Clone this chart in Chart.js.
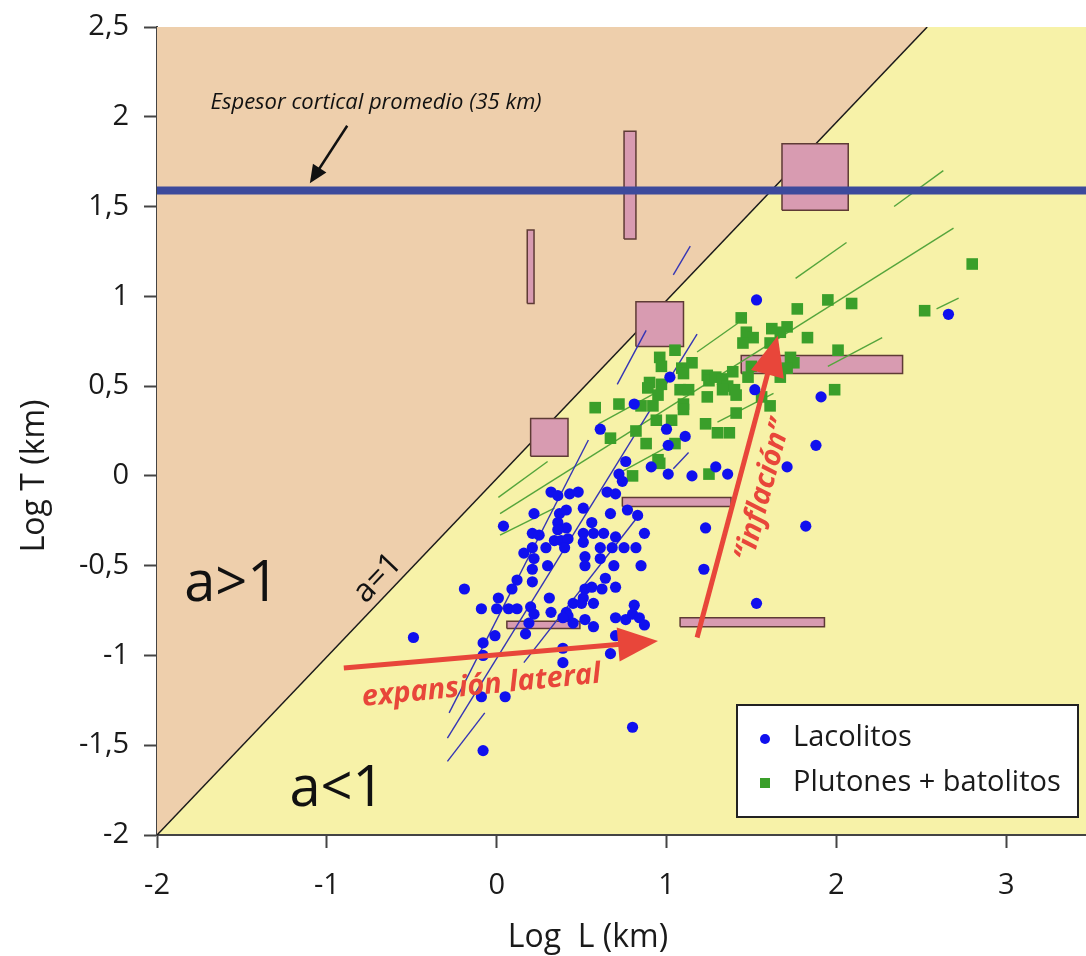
<!DOCTYPE html>
<html><head><meta charset="utf-8">
<script src="https://cdn.jsdelivr.net/npm/chart.js@4.4.0/dist/chart.umd.min.js"></script>
<style>html,body{margin:0;padding:0;background:#fff;}canvas{display:block;}</style>
</head><body>
<canvas id="c" width="1086" height="956"></canvas>
<script>
// ---- axes ----
const xTickValues = [-2, -1, 0, 1, 2, 3];
const xTickLabels = ['-2', '-1', '0', '1', '2', '3'];
const yTickValues = [-2, -1.5, -1, -0.5, 0, 0.5, 1, 1.5, 2, 2.5];
const yTickLabels = ['-2', '-1,5', '-1', '-0,5', '0', '0,5', '1', '1,5', '2', '2,5'];
const xRange = [-2, 3.47];
const yRange = [-2, 2.5];
const axisTitles = ['Log  L (km)', 'Log T (km)'];
const seriesNames = ['Lacolitos', 'Plutones + batolitos'];

// ---- series: [log L, log T] ----
const lacolitos = [
[1.02,0.55],[1.52,0.48],[1.71,0.05],[0.81,0.40],[0.61,0.26],[1.00,0.26],[1.11,0.22],[1.01,0.17],
[0.76,0.08],[0.91,0.05],[1.01,0.01],[1.15,0.00],[1.29,0.05],[1.36,0.01],[0.72,0.01],[0.74,-0.03],
[0.32,-0.09],[0.36,-0.11],[0.43,-0.10],[0.48,-0.09],[0.65,-0.09],[0.70,-0.10],[1.23,-0.29],[1.22,-0.52],
[1.53,-0.71],[0.04,-0.28],[0.22,-0.21],[0.37,-0.21],[0.41,-0.19],[0.51,-0.18],[0.67,-0.21],[0.77,-0.19],
[0.83,-0.22],[0.36,-0.26],[0.41,-0.29],[0.36,-0.30],[0.56,-0.26],[0.21,-0.32],[0.25,-0.33],[0.51,-0.32],
[0.57,-0.32],[0.63,-0.32],[0.70,-0.34],[0.87,-0.32],[0.16,-0.43],[0.21,-0.40],[0.29,-0.40],[0.34,-0.36],
[0.38,-0.36],[0.42,-0.35],[0.40,-0.40],[0.51,-0.37],[0.61,-0.40],[0.68,-0.40],[0.75,-0.40],[0.82,-0.40],
[0.22,-0.46],[0.30,-0.50],[0.52,-0.45],[0.52,-0.50],[0.61,-0.46],[0.69,-0.50],[0.85,-0.50],[0.21,-0.52],
[0.12,-0.58],[0.21,-0.59],[0.64,-0.57],[0.09,-0.63],[-0.19,-0.63],[0.52,-0.63],[0.56,-0.62],[0.62,-0.63],
[0.70,-0.62],[0.01,-0.68],[0.31,-0.68],[0.51,-0.68],[0.45,-0.71],[0.50,-0.71],[0.57,-0.71],[0.81,-0.72],
[-0.09,-0.74],[0.00,-0.74],[0.07,-0.74],[0.12,-0.74],[0.20,-0.73],[0.22,-0.77],[0.32,-0.76],[0.41,-0.76],
[0.42,-0.78],[0.39,-0.79],[0.45,-0.82],[0.52,-0.80],[0.57,-0.84],[0.70,-0.79],[0.76,-0.80],[0.80,-0.77],
[0.84,-0.79],[0.87,-0.83],[0.19,-0.82],[0.17,-0.88],[-0.01,-0.89],[-0.08,-0.93],[-0.49,-0.90],[-0.08,-1.00],
[0.39,-0.96],[0.39,-1.04],[0.67,-0.99],[0.70,-0.89],[-0.09,-1.23],[0.05,-1.23],[-0.08,-1.53],[0.80,-1.40],
[1.88,0.17],[1.82,-0.28],[1.91,0.44],[2.66,0.90],[1.53,0.98]
];
const plutones = [
[0.58,0.38],[0.72,0.40],[0.67,0.21],[0.82,0.25],[0.88,0.18],[0.95,0.09],[0.96,0.07],[0.80,0.00],
[1.25,0.01],[1.05,0.18],[1.03,0.31],[0.94,0.31],[0.92,0.39],[0.85,0.39],[0.90,0.52],[0.97,0.51],
[0.89,0.49],[0.95,0.45],[1.10,0.40],[1.10,0.37],[1.08,0.48],[1.13,0.48],[0.96,0.66],[0.97,0.61],
[1.05,0.70],[1.09,0.60],[1.10,0.57],[1.15,0.63],[1.24,0.56],[1.25,0.53],[1.29,0.55],[1.33,0.54],
[1.36,0.50],[1.33,0.48],[1.40,0.48],[1.41,0.45],[1.39,0.58],[1.24,0.44],[1.23,0.29],[1.30,0.24],
[1.37,0.24],[1.41,0.35],[1.48,0.55],[1.50,0.61],[1.56,0.44],[1.61,0.39],[1.44,0.88],[1.47,0.80],
[1.51,0.77],[1.45,0.74],[1.62,0.82],[1.67,0.80],[1.71,0.83],[1.61,0.74],[1.77,0.93],[1.83,0.77],
[1.95,0.98],[2.09,0.96],[2.01,0.70],[1.73,0.66],[1.75,0.63],[1.71,0.60],[1.67,0.55],[1.99,0.48],
[2.80,1.18],[2.52,0.92]
];
// range boxes: [L min, L max, T min, T max]
const rangeBoxes = [
[0.75,0.82,1.32,1.92],[0.18,0.22,0.96,1.37],[0.82,1.10,0.72,0.97],[0.20,0.42,0.11,0.32],
[1.68,2.07,1.48,1.85],[1.44,2.39,0.57,0.67],[0.74,1.38,-0.17,-0.12],[0.06,0.49,-0.85,-0.81],
[1.08,1.93,-0.84,-0.79]
];
// trend segments: [L1, T1, L2, T2]
const lacolitoTrends = [
[1.04,1.12,1.14,1.28],[0.71,0.51,0.88,0.81],[-0.29,-1.46,1.18,0.79],[-0.28,-1.32,0.54,0.20],
[-0.29,-1.59,-0.07,-1.32],[0.16,-1.04,0.82,-0.24],[1.04,0.04,1.13,0.13]
];
const plutonTrends = [
[2.34,1.50,2.63,1.70],[1.76,1.10,2.06,1.30],[0.02,-0.21,2.69,1.38],[1.95,0.61,2.27,0.77],
[2.59,0.93,2.72,0.99],[1.18,0.69,1.42,0.85],[0.01,-0.12,0.30,0.08],[0.02,-0.33,0.34,-0.18],
[0.60,0.29,0.93,0.46],[0.71,0.01,1.04,0.18],[1.30,0.30,1.63,0.46]
];
const aspectLine = [[-2,-2],[2.535,2.5]];
const crustLogT = 1.59;

// ---- annotations ----
const regionLabels = [['a>1', -1.56, -0.61], ['a<1', -0.94, -1.75]];
const slopeLabel = ['a=1', -0.70, -0.57];
const crustLabel = ['Espesor cortical promedio (35 km)', -0.71, 2.08];
const crustArrow = [-0.88, 1.95, -1.10, 1.63];
const lateralArrow = [-0.90, -1.07, 0.95, -0.92];
const lateralLabel = ['expansión lateral', -0.09, -1.17];
const inflationArrow = [1.18, -0.90, 1.655, 0.78];
const inflationLabel = ['“inflación”', 1.57, -0.08];

// ---- styles ----
const TAN = '#eecfac', YELLOW = '#f7f2a8', PINK = '#d89bb1', PINK_EDGE = '#5e3b35';
const BLUE = '#1010ee', GREEN = '#3a9f2a', RED = '#e8463a', TXT = '#1a1a1a';
const FONT = '"Open Sans", "Noto Sans", sans-serif';

const pts = arr => arr.map(p => ({x: p[0], y: p[1]}));
const datasets = [];

datasets.push({label: seriesNames[0], data: pts(lacolitos), showLine: false, pointRadius: 5.6,
  pointStyle: 'circle', backgroundColor: BLUE, borderColor: BLUE, pointBorderWidth: 0, order: 2});
datasets.push({label: seriesNames[1], data: pts(plutones), showLine: false, pointRadius: 8.2,
  pointStyle: 'rect', backgroundColor: GREEN, borderColor: GREEN, pointBorderWidth: 0, order: 3});
datasets.push({label: 'crust', data: [{x: xRange[0], y: crustLogT}, {x: xRange[1], y: crustLogT}],
  borderColor: '#3c4a9c', borderWidth: 8, pointRadius: 0, fill: false, order: 1});
lacolitoTrends.forEach(s => datasets.push({label: 'tl', data: [{x: s[0], y: s[1]}, {x: s[2], y: s[3]}],
  borderColor: '#3535b5', borderWidth: 1.4, pointRadius: 0, fill: false, order: 4}));
plutonTrends.forEach(s => datasets.push({label: 'tp', data: [{x: s[0], y: s[1]}, {x: s[2], y: s[3]}],
  borderColor: '#55a53c', borderWidth: 1.4, pointRadius: 0, fill: false, order: 5}));
rangeBoxes.forEach(b => datasets.push({label: 'box',
  data: [{x: b[0], y: b[2]}, {x: b[1], y: b[2]}, {x: b[1], y: b[3]}, {x: b[0], y: b[3]}, {x: b[0], y: b[2]}],
  borderColor: PINK_EDGE, borderWidth: 1.5, backgroundColor: PINK, pointRadius: 0, fill: 'shape', order: 6}));
datasets.push({label: 'a1', data: pts(aspectLine), borderColor: '#1a1a1a', borderWidth: 1.5,
  backgroundColor: TAN, pointRadius: 0, fill: 'end', order: 10});

function arrow(ctx, x1, y1, x2, y2, w, hl, hw, color) {
  const a = Math.atan2(y2 - y1, x2 - x1);
  const bx = x2 - hl * Math.cos(a), by = y2 - hl * Math.sin(a);
  ctx.save();
  ctx.strokeStyle = color; ctx.fillStyle = color; ctx.lineWidth = w; ctx.lineCap = 'butt';
  ctx.beginPath(); ctx.moveTo(x1, y1); ctx.lineTo(bx + Math.cos(a) * 2, by + Math.sin(a) * 2); ctx.stroke();
  ctx.beginPath(); ctx.moveTo(x2, y2);
  ctx.lineTo(bx + hw * Math.sin(a), by - hw * Math.cos(a));
  ctx.lineTo(bx - hw * Math.sin(a), by + hw * Math.cos(a));
  ctx.closePath(); ctx.fill();
  ctx.restore();
}
function text(ctx, t, x, y, ang, font, color) {
  ctx.save(); ctx.translate(x, y); ctx.rotate(ang); ctx.font = font; ctx.fillStyle = color;
  ctx.textAlign = 'center'; ctx.textBaseline = 'middle'; ctx.fillText(t, 0, 0); ctx.restore();
}

const overlay = {
  id: 'overlay',
  beforeDraw(chart) {
    const {ctx, chartArea: a} = chart;
    ctx.save();
    ctx.fillStyle = '#fff'; ctx.fillRect(0, 0, chart.width, chart.height);
    ctx.fillStyle = YELLOW; ctx.fillRect(a.left, a.top, a.right - a.left, a.bottom - a.top);
    ctx.restore();
  },
  afterDatasetsDraw(chart) {
    const ctx = chart.ctx, xs = chart.scales.x, ys = chart.scales.y;
    const px = v => xs.getPixelForValue(v), py = v => ys.getPixelForValue(v);
    regionLabels.forEach(r => text(ctx, r[0], px(r[1]), py(r[2]), 0, '56px ' + FONT, '#111'));
    const dAng = Math.atan2(py(aspectLine[1][1]) - py(aspectLine[0][1]), px(aspectLine[1][0]) - px(aspectLine[0][0]));
    text(ctx, slopeLabel[0], px(slopeLabel[1]), py(slopeLabel[2]), dAng, '32px ' + FONT, '#111');
    text(ctx, crustLabel[0], px(crustLabel[1]), py(crustLabel[2]), 0, 'italic 22px ' + FONT, '#111');
    arrow(ctx, px(crustArrow[0]), py(crustArrow[1]), px(crustArrow[2]), py(crustArrow[3]), 2.5, 18, 8, '#111');
    arrow(ctx, px(lateralArrow[0]), py(lateralArrow[1]), px(lateralArrow[2]), py(lateralArrow[3]), 5, 40, 17, RED);
    arrow(ctx, px(inflationArrow[0]), py(inflationArrow[1]), px(inflationArrow[2]), py(inflationArrow[3]), 5, 40, 17, RED);
    const lAng = Math.atan2(py(lateralArrow[3]) - py(lateralArrow[1]), px(lateralArrow[2]) - px(lateralArrow[0]));
    text(ctx, lateralLabel[0], px(lateralLabel[1]), py(lateralLabel[2]), lAng * 1.15, 'italic bold 29px ' + FONT, RED);
    const iAng = Math.atan2(py(inflationArrow[3]) - py(inflationArrow[1]), px(inflationArrow[2]) - px(inflationArrow[0]));
    text(ctx, inflationLabel[0], px(inflationLabel[1]), py(inflationLabel[2]), iAng, 'italic bold 29px ' + FONT, RED);
  },
  afterDraw(chart) {
    const ctx = chart.ctx, ys = chart.scales.y;
    text(ctx, axisTitles[0], 588, 938, 0, '32px ' + FONT, TXT);
    text(ctx, axisTitles[1], 35, ys.getPixelForValue(0), -Math.PI / 2, '32px ' + FONT, TXT);
    ctx.save();
    ctx.fillStyle = '#fff'; ctx.strokeStyle = '#222'; ctx.lineWidth = 2;
    ctx.fillRect(737, 705, 341, 112); ctx.strokeRect(737, 705, 341, 112);
    ctx.fillStyle = BLUE; ctx.beginPath(); ctx.arc(765, 739, 5, 0, Math.PI * 2); ctx.fill();
    ctx.fillStyle = GREEN; ctx.fillRect(760, 778, 10, 10);
    ctx.fillStyle = TXT; ctx.font = '29px ' + FONT; ctx.textAlign = 'left'; ctx.textBaseline = 'middle';
    ctx.fillText(chart.data.datasets[0].label, 793, 738);
    ctx.fillText(chart.data.datasets[1].label, 793, 783);
    ctx.restore();
  }
};

const noPad = s => { s.paddingLeft = 0; s.paddingRight = 0; s.paddingTop = 0; s.paddingBottom = 0; };

new Chart(document.getElementById('c'), {
  type: 'line',
  data: {datasets},
  plugins: [overlay],
  options: {
    responsive: false, animation: false, events: [],
    layout: {autoPadding: false, padding: {left: 0, top: 27, right: 0, bottom: 0}},
    plugins: {legend: {display: false}, tooltip: {enabled: false}, filler: {propagate: false}},
    scales: {
      x: {
        type: 'linear', min: xRange[0], max: xRange[1], z: 1,
        afterFit: s => { s.height = 121; noPad(s); },
        afterBuildTicks: s => { s.ticks = xTickValues.map(v => ({value: v})); },
        ticks: {callback: (v) => xTickLabels[xTickValues.indexOf(v)], font: {size: 29, family: FONT},
          color: TXT, padding: 20, maxRotation: 0, autoSkip: false},
        grid: {drawOnChartArea: false, drawTicks: true, tickLength: 13, tickWidth: 2, tickColor: '#444'},
        border: {display: true, color: '#444', width: 2}
      },
      y: {
        type: 'linear', min: yRange[0], max: yRange[1], z: 1,
        afterFit: s => { s.width = 157; noPad(s); },
        afterBuildTicks: s => { s.ticks = yTickValues.map(v => ({value: v})); },
        ticks: {callback: (v) => yTickLabels[yTickValues.indexOf(v)], font: {size: 29, family: FONT},
          color: TXT, padding: 15, autoSkip: false},
        grid: {drawOnChartArea: false, drawTicks: true, tickLength: 13, tickWidth: 2, tickColor: '#444'},
        border: {display: true, color: '#444', width: 2}
      }
    }
  }
});
</script>
</body></html>
